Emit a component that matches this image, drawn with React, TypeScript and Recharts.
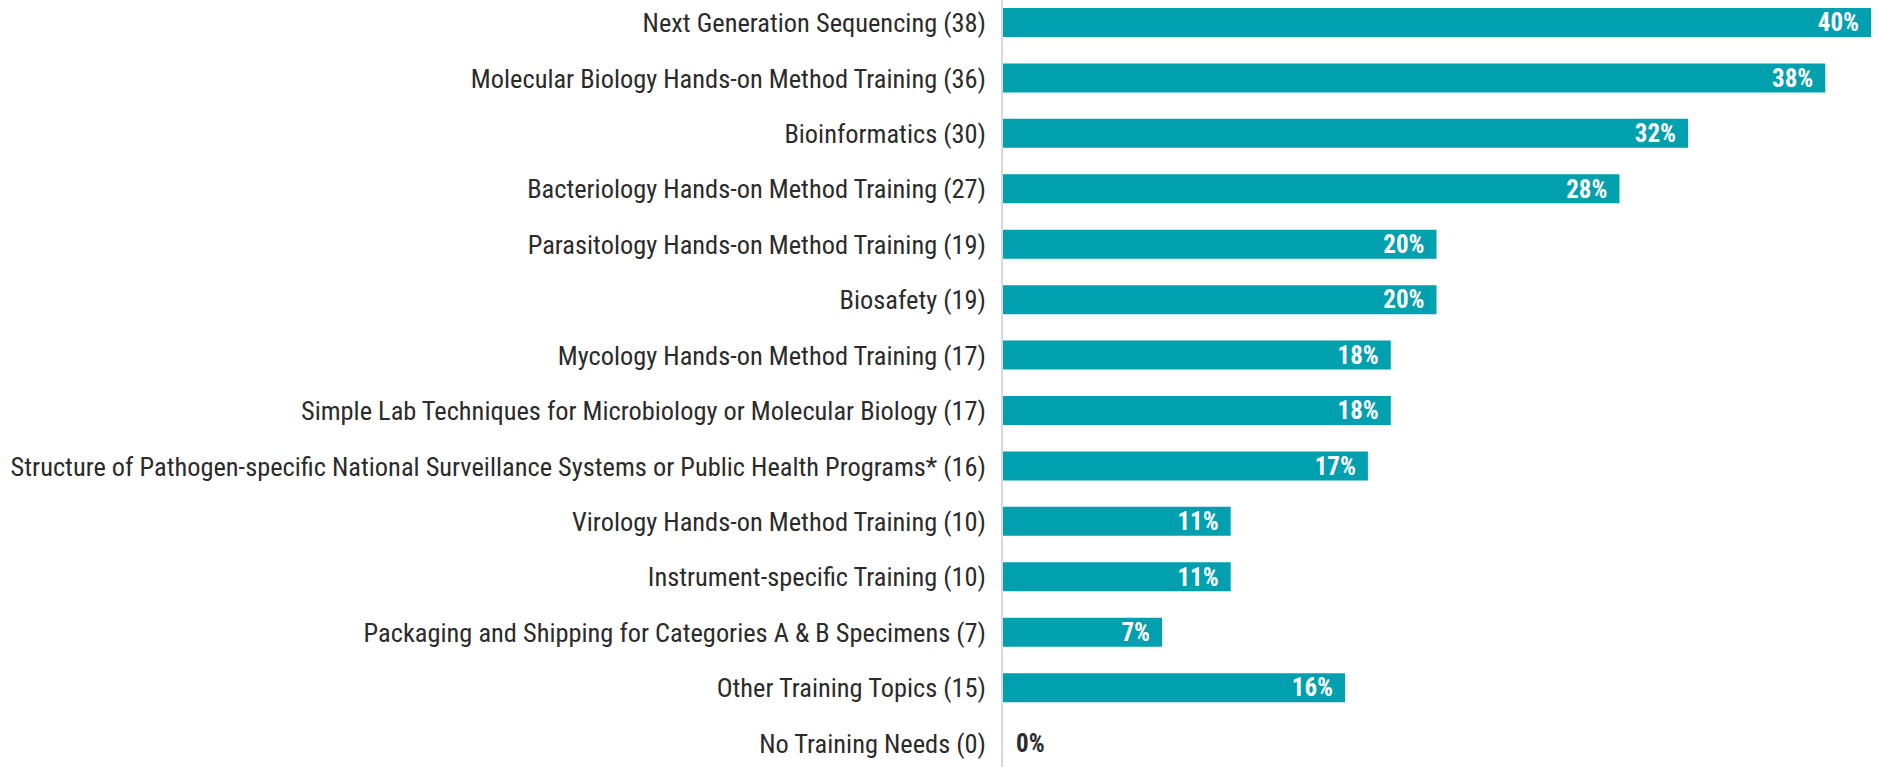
import { BarChart, Bar, XAxis, YAxis, LabelList, Cell } from "recharts";

const topics = [
  "Next Generation Sequencing (38)",
  "Molecular Biology Hands-on Method Training (36)",
  "Bioinformatics (30)",
  "Bacteriology Hands-on Method Training (27)",
  "Parasitology Hands-on Method Training (19)",
  "Biosafety (19)",
  "Mycology Hands-on Method Training (17)",
  "Simple Lab Techniques for Microbiology or Molecular Biology (17)",
  "Structure of Pathogen-specific National Surveillance Systems or Public Health Programs* (16)",
  "Virology Hands-on Method Training (10)",
  "Instrument-specific Training (10)",
  "Packaging and Shipping for Categories A & B Specimens (7)",
  "Other Training Topics (15)",
  "No Training Needs (0)",
];

const counts = [38, 36, 30, 27, 19, 19, 17, 17, 16, 10, 10, 7, 15, 0];
const percents = ["40%", "38%", "32%", "28%", "20%", "20%", "18%", "18%", "17%", "11%", "11%", "7%", "16%", "0%"];

const data = topics.map((topic, i) => ({ topic, count: counts[i], pct: percents[i] }));

const FONT = "'Liberation Sans Narrow', 'Arial Narrow', 'Roboto Condensed', Roboto, sans-serif";
const TEAL = "#00a0af";

// eslint-disable-next-line @typescript-eslint/no-explicit-any
function PctLabel(props: any) {
  const { x, y, width, height, index } = props;
  const cy = y + height / 2;
  const label = percents[index];
  if (counts[index] === 0) {
    return (
      <text x={x + 14} y={cy} dy="0.35em" fill="#2b2b2b" fontSize={25} fontWeight={700} fontFamily={FONT}>
        {label}
      </text>
    );
  }
  return (
    <text x={x + width - 12} y={cy} dy="0.35em" textAnchor="end" fill="#fff" fontSize={25} fontWeight={700} fontFamily={FONT}>
      {label}
    </text>
  );
}

export default function App() {
  return (
    <div style={{ position: "absolute", left: 0, top: -5, width: 1879, height: 776, background: "#fff" }}>
      <BarChart
        width={1879}
        height={776}
        data={data}
        layout="vertical"
        margin={{ top: 0, right: 8, bottom: 0, left: 0 }}
      >
        <XAxis type="number" domain={[0, 38]} hide />
        <Bar dataKey="count" barSize={29} minPointSize={1} isAnimationActive={false}>
          {data.map((d, i) => (
            <Cell key={i} fill={d.count === 0 ? "transparent" : TEAL} />
          ))}
          <LabelList dataKey="pct" content={PctLabel} />
        </Bar>
        <YAxis
          type="category"
          dataKey="topic"
          width={1002}
          interval={0}
          tickLine={false}
          tickSize={0}
          tickMargin={16}
          axisLine={{ stroke: "#d9d9d9", strokeWidth: 2 }}
          tick={{ fill: "#2b2b2b", fontSize: 26.4, fontFamily: FONT }}
        />
      </BarChart>
    </div>
  );
}
